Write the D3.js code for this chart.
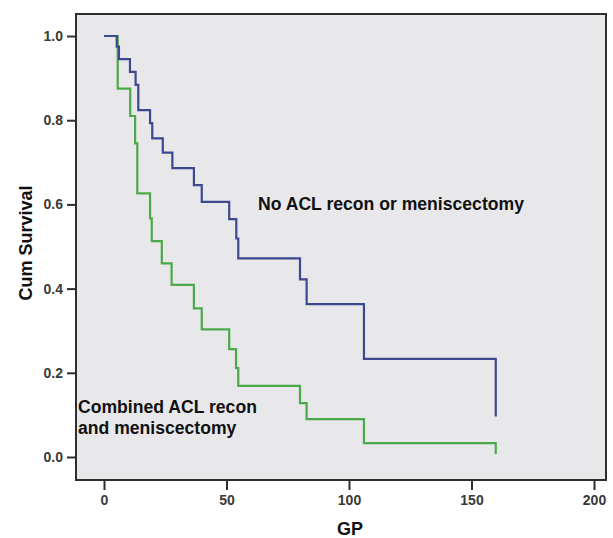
<!DOCTYPE html>
<html>
<head>
<meta charset="utf-8">
<script src="https://cdn.jsdelivr.net/npm/d3@7"></script>
<style>
  body { margin: 0; background: #fff; }
  text { font-family: "Liberation Sans", Arial, sans-serif; }
</style>
</head>
<body>
<div id="chart"></div>
<script>
// survival steps
const noAclTime = [0, 5.2, 6.1, 10.6, 12.9, 14.0, 18.8, 19.7, 24.0, 27.9, 36.7, 39.9, 51.1, 54.0, 54.8, 80.0, 82.7, 106.1, 159.9];
const noAclSurv = [1.0, 0.975, 0.945, 0.915, 0.884, 0.824, 0.793, 0.757, 0.723, 0.686, 0.646, 0.606, 0.565, 0.519, 0.472, 0.422, 0.363, 0.233, 0.096];

const combTime = [0, 5.6, 10.7, 12.7, 13.6, 18.8, 19.5, 23.6, 27.6, 36.7, 39.9, 51.1, 53.9, 54.8, 80.0, 82.7, 106.1, 159.9];
const combSurv = [1.0, 0.875, 0.81, 0.745, 0.626, 0.567, 0.513, 0.46, 0.409, 0.353, 0.303, 0.256, 0.211, 0.169, 0.128, 0.09, 0.033, 0.007];

const xTicks = [0, 50, 100, 150, 200];
const yTicks = [0, 0.2, 0.4, 0.6, 0.8, 1.0];

const W = 613, H = 538;
const frame = {left: 76, right: 606, top: 14, bottom: 480};

const svg = d3.select("#chart").append("svg")
    .attr("width", W)
    .attr("height", H);

const x = d3.scaleLinear().domain([0, 200]).range([104, 594]);
const y = d3.scaleLinear().domain([0, 1]).range([457, 36]);

// plot background
svg.append("rect")
    .attr("x", frame.left)
    .attr("y", frame.top)
    .attr("width", frame.right - frame.left)
    .attr("height", frame.bottom - frame.top)
    .attr("fill", "#e8e8ea");

const line = d3.line()
    .x(d => x(d[0]))
    .y(d => y(d[1]))
    .curve(d3.curveStepAfter);

svg.append("path")
    .datum(d3.zip(combTime, combSurv))
    .attr("d", line)
    .attr("fill", "none")
    .attr("stroke", "#4ca94a")
    .attr("stroke-width", 2.2);

svg.append("path")
    .datum(d3.zip(noAclTime, noAclSurv))
    .attr("d", line)
    .attr("fill", "none")
    .attr("stroke", "#3d4890")
    .attr("stroke-width", 2.2);

// frame
svg.append("rect")
    .attr("x", frame.left)
    .attr("y", frame.top)
    .attr("width", frame.right - frame.left)
    .attr("height", frame.bottom - frame.top)
    .attr("fill", "none")
    .attr("stroke", "#2e2e2e")
    .attr("stroke-width", 2);

// axes
const yAxis = svg.append("g")
    .attr("transform", "translate(" + frame.left + ",0)")
    .call(d3.axisLeft(y).tickValues(yTicks).tickFormat(d3.format(".1f")).tickSize(9).tickPadding(4));

const xAxis = svg.append("g")
    .attr("transform", "translate(0," + frame.bottom + ")")
    .call(d3.axisBottom(x).tickValues(xTicks).tickSize(10).tickPadding(5));

[yAxis, xAxis].forEach(g => {
    g.select(".domain").remove();
    g.selectAll(".tick line").attr("stroke", "#2e2e2e").attr("stroke-width", 2);
    g.selectAll(".tick text")
        .attr("fill", "#3a3a3a")
        .style("font-family", "'Liberation Sans', Arial, sans-serif")
        .style("font-size", "14px")
        .style("font-weight", "bold");
});

// axis titles
svg.append("text")
    .attr("transform", "translate(32,243) rotate(-90)")
    .attr("text-anchor", "middle")
    .style("font-size", "18px")
    .style("font-weight", "bold")
    .attr("fill", "#111")
    .text("Cum Survival");

svg.append("text")
    .attr("x", 350)
    .attr("y", 535)
    .attr("text-anchor", "middle")
    .style("font-size", "18px")
    .style("font-weight", "bold")
    .attr("fill", "#111")
    .text("GP");

// group labels
svg.append("text")
    .attr("x", 258)
    .attr("y", 210)
    .style("font-size", "17.6px")
    .style("font-weight", "bold")
    .attr("fill", "#111")
    .text("No ACL recon or meniscectomy");

svg.append("text")
    .attr("x", 78)
    .attr("y", 413)
    .style("font-size", "17.6px")
    .style("font-weight", "bold")
    .attr("fill", "#111")
    .text("Combined ACL recon");

svg.append("text")
    .attr("x", 78)
    .attr("y", 434)
    .style("font-size", "17.6px")
    .style("font-weight", "bold")
    .attr("fill", "#111")
    .text("and meniscectomy");
</script>
</body>
</html>
